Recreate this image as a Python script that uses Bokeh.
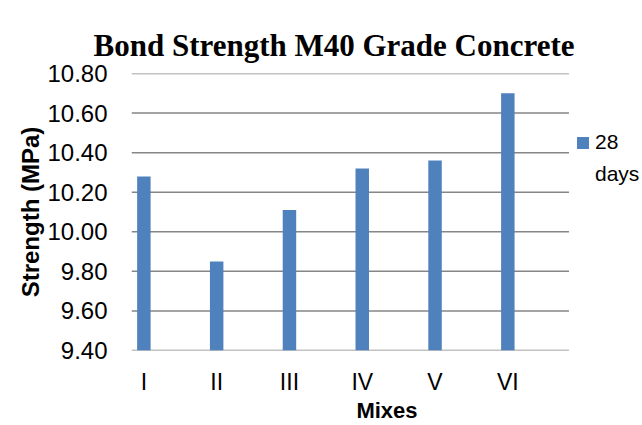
from bokeh.plotting import figure
from bokeh.models import Range1d, FixedTicker, Legend, LegendItem, NumeralTickFormatter, ColumnDataSource
from bokeh.embed import file_html
from bokeh.resources import INLINE

# Data
mixes = ["I", "II", "III", "IV", "V", "VI"]
strength_28d = [10.28, 9.85, 10.11, 10.32, 10.36, 10.70]
y_ticks = [9.40, 9.60, 9.80, 10.00, 10.20, 10.40, 10.60, 10.80]
series_label = "28 days"

positions = list(range(len(mixes)))
src = ColumnDataSource(dict(x=positions, top=strength_28d, mix=mixes))

# layout (style) constants, in category units
X_LO, AXIS_END, X_HI = -0.17, len(mixes) - 0.16, len(mixes) + 0.85

p = figure(
    width=642, height=425,
    x_range=Range1d(X_LO, X_HI),
    y_range=Range1d(y_ticks[0], y_ticks[-1]),
    output_backend="svg", toolbar_location=None,
    min_border_left=131, min_border_right=0,
    min_border_top=73, min_border_bottom=73,
    title="Bond Strength M40 Grade Concrete",
)

grid_col = "#868686"
# horizontal gridlines (incl. the category axis line) spanning the plot area only
p.segment(x0=X_LO, x1=AXIS_END, y0=y_ticks, y1=y_ticks,
          line_color=grid_col, line_width=1.5)

r = p.vbar(x="x", top="top", bottom=y_ticks[0], width=0.185, source=src,
           fill_color="#4F81BD", line_color=None)
# invisible helper so the legend label can wrap onto a second line
r_blank = p.vbar(x=[], top=[], bottom=y_ticks[0], width=0.185,
                 fill_alpha=0, line_alpha=0)

p.title.text_font = "Liberation Serif"
p.title.text_font_style = "bold"
p.title.text_font_size = "31px"
p.title.text_color = "black"
p.title.align = "left"
p.title.offset = -38
p.title.standoff = 22

p.outline_line_color = None
p.background_fill_color = "white"
p.border_fill_color = "white"
p.xgrid.grid_line_color = None
p.ygrid.grid_line_color = None

p.yaxis.ticker = FixedTicker(ticks=y_ticks)
p.yaxis.formatter = NumeralTickFormatter(format="0.00")
p.yaxis.axis_line_color = None
p.yaxis.major_tick_line_color = None
p.yaxis.minor_tick_line_color = None
p.yaxis.major_tick_out = 0
p.yaxis.major_tick_in = 0
p.yaxis.major_label_standoff = 24
p.yaxis.major_label_text_font = "Liberation Sans"
p.yaxis.major_label_text_font_size = "24px"
p.yaxis.major_label_text_color = "black"
p.yaxis.axis_label = "Strength (MPa)"
p.yaxis.axis_label_text_font = "Liberation Sans"
p.yaxis.axis_label_text_font_size = "24px"
p.yaxis.axis_label_text_font_style = "bold"
p.yaxis.axis_label_text_color = "black"
p.yaxis.axis_label_standoff = 0

p.xaxis.ticker = FixedTicker(ticks=positions)
p.xaxis.major_label_overrides = {i: m for i, m in zip(positions, mixes)}
p.xaxis.axis_line_color = None
p.xaxis.major_tick_line_color = None
p.xaxis.minor_tick_line_color = None
p.xaxis.major_tick_out = 0
p.xaxis.major_tick_in = 0
p.xaxis.major_label_standoff = 18
p.xaxis.major_label_text_font = "Liberation Sans"
p.xaxis.major_label_text_font_size = "23px"
p.xaxis.major_label_text_color = "black"
p.xaxis.axis_label = "Mixes"
p.xaxis.axis_label_text_font = "Liberation Sans"
p.xaxis.axis_label_text_font_size = "22px"
p.xaxis.axis_label_text_font_style = "bold"
p.xaxis.axis_label_text_color = "black"
p.xaxis.axis_label_standoff = 0

label_lines = series_label.split(" ")
legend = Legend(items=[LegendItem(label=label_lines[0], renderers=[r]),
                       LegendItem(label=label_lines[1], renderers=[r_blank])],
                location=(444, 164), padding=0, margin=0, spacing=8,
                glyph_width=15, glyph_height=15, label_standoff=5,
                border_line_color=None, background_fill_alpha=0,
                label_text_font="Liberation Sans", label_text_font_size="21px",
                label_text_color="black")
p.add_layout(legend, "center")

open("out.html", "w").write(file_html(p, INLINE))
